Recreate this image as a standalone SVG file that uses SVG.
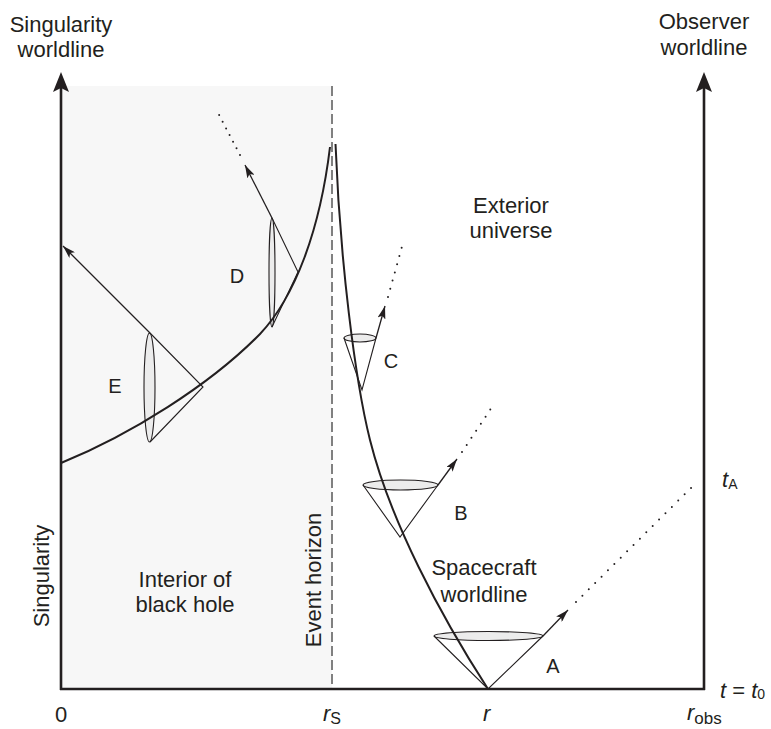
<svg xmlns="http://www.w3.org/2000/svg" width="771" height="729" viewBox="0 0 771 729">
<defs>
<style>
.t{font-family:"Liberation Sans",Arial,sans-serif;font-size:22px;fill:#231f20}
.lbl{font-family:"Liberation Sans",Arial,sans-serif;font-size:20px;fill:#231f20;text-anchor:middle}
.mid{text-anchor:middle}
.it{font-style:italic}
.axis{stroke:#231f20;stroke-width:2.6;fill:none}
.wl{stroke:#231f20;stroke-width:2;fill:none}
.cone{stroke:#231f20;stroke-width:1.1;fill:none}
.rim{stroke:#231f20;stroke-width:1.1;fill:#ececec}
.ray{stroke:#231f20;stroke-width:1.3;fill:none}
.dot{stroke:#231f20;stroke-width:2;fill:none;stroke-linecap:round;stroke-dasharray:0 8.5}
</style>
<marker id="bigArrow" markerUnits="userSpaceOnUse" markerWidth="20" markerHeight="16" refX="10" refY="8" orient="auto">
<path d="M0,0 L20,8 L0,16 L4,8 z" fill="#231f20"/>
</marker>
<marker id="smallArrow" markerUnits="userSpaceOnUse" markerWidth="13" markerHeight="8" refX="13" refY="4" orient="auto">
<path d="M0,0 L13,4 L0,8 L3,4 z" fill="#231f20"/>
</marker>
</defs>
<rect width="771" height="729" fill="#ffffff"/>

<g id="interior-region">
<rect x="62" y="86" width="270" height="603" fill="#f7f7f7"/>
</g>

<g id="event-horizon">
<line x1="332" y1="86" x2="332" y2="689" stroke="#808080" stroke-width="2" stroke-dasharray="10 4"/>
</g>

<g id="axes">
<line class="axis" x1="61" y1="690" x2="61" y2="82" marker-end="url(#bigArrow)"/>
<line class="axis" x1="704" y1="690" x2="704" y2="82" marker-end="url(#bigArrow)"/>
<line class="axis" x1="60" y1="689" x2="705" y2="689"/>
</g>

<g id="cone-A">
<ellipse class="rim" cx="488.5" cy="636" rx="54.5" ry="4.5"/>
<polyline class="cone" points="434,636 488,689 543,636"/>
<line class="ray" x1="543" y1="636" x2="568" y2="610" marker-end="url(#smallArrow)"/>
<line class="dot" x1="576" y1="602" x2="697" y2="482" style="stroke-dasharray:0 9"/>
</g>

<g id="cone-B">
<ellipse class="rim" cx="400.5" cy="485" rx="37.5" ry="5"/>
<polyline class="cone" points="363,485 400,537 438,485"/>
<line class="ray" x1="438" y1="485" x2="457" y2="459" marker-end="url(#smallArrow)"/>
<line class="dot" x1="462" y1="452" x2="492" y2="407"/>
</g>

<g id="cone-C">
<ellipse class="rim" cx="360" cy="338" rx="16" ry="4"/>
<polyline class="cone" points="344,338 362,390 376,338"/>
<line class="ray" x1="376" y1="338" x2="385" y2="306" marker-end="url(#smallArrow)"/>
<line class="dot" x1="388" y1="297" x2="403" y2="243"/>
</g>

<g id="cone-D">
<ellipse class="rim" cx="272" cy="272.5" rx="3" ry="54.5"/>
<polyline class="cone" points="272,218 298,272 272,327"/>
<line class="ray" x1="272" y1="218" x2="245" y2="165" marker-end="url(#smallArrow)"/>
<line class="dot" x1="240" y1="155" x2="217" y2="111" style="stroke-dasharray:0 7.5"/>
</g>

<g id="cone-E">
<ellipse class="rim" cx="149.5" cy="387.5" rx="5.5" ry="54.5"/>
<polyline class="cone" points="150,333 203,387 150,442"/>
<line class="ray" x1="150" y1="333" x2="63" y2="246" marker-end="url(#smallArrow)"/>
</g>

<g id="worldlines">
<path id="spacecraft-worldline" class="wl" d="M488,689 C440,615 390,520 370,440 C355,380 340,260 335.5,144"/>
<path id="interior-worldline" class="wl" d="M61,463 C130,435 210,385 260,334 C295,297 320,230 330,147"/>
</g>

<g id="labels">
<text class="t mid" x="61" y="32">Singularity</text>
<text class="t mid" x="61" y="57">worldline</text>
<text class="t mid" x="704" y="29">Observer</text>
<text class="t mid" x="704" y="55">worldline</text>
<text class="t mid" x="511" y="213">Exterior</text>
<text class="t mid" x="511" y="238">universe</text>
<text class="t mid" x="484" y="575">Spacecraft</text>
<text class="t mid" x="484" y="602">worldline</text>
<text class="t mid" x="185" y="587">Interior of</text>
<text class="t mid" x="185" y="612">black hole</text>
<text class="t mid" transform="translate(49,576) rotate(-90)">Singularity</text>
<text class="t mid" transform="translate(321,580) rotate(-90)">Event horizon</text>
<text class="lbl" x="553" y="673">A</text>
<text class="lbl" x="461" y="520">B</text>
<text class="lbl" x="391" y="368">C</text>
<text class="lbl" x="237" y="283">D</text>
<text class="lbl" x="115" y="393">E</text>
<text class="t mid" x="61" y="722">0</text>
<text class="t" x="323" y="721"><tspan class="it">r</tspan><tspan font-size="16" dy="3">S</tspan></text>
<text class="t it" x="483" y="721">r</text>
<text class="t" x="687" y="720"><tspan class="it">r</tspan><tspan font-size="17" dy="4">obs</tspan></text>
<text class="t" x="720" y="698"><tspan class="it">t</tspan> = <tspan class="it">t</tspan><tspan font-size="14" dy="1">0</tspan></text>
<text class="t" x="722" y="487"><tspan class="it">t</tspan><tspan font-size="14" dy="2">A</tspan></text>
</g>
</svg>
